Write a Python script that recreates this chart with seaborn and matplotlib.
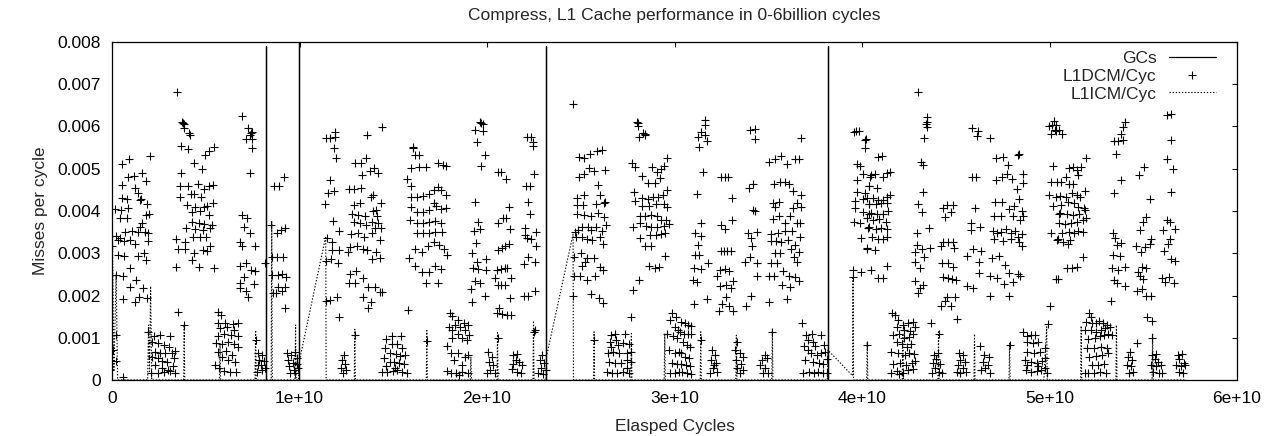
import matplotlib
matplotlib.use("Agg")
import matplotlib.pyplot as plt
import pandas as pd
import seaborn as sns
from matplotlib.lines import Line2D

# Units in the lists below: x in 1e9 elapsed cycles, y in 1e-3 misses per cycle.

# Garbage-collection events (drawn as a solid line along zero with spikes)
gc_points = [(0, 0), (8.19, 0), (8.19, 7.9), (8.19, 0), (9.97, 0), (9.97, 8.5), (9.97, 0),
             (23.17, 0), (23.17, 7.9), (23.17, 0), (38.18, 0), (38.18, 7.9), (38.18, 0), (57.2, 0)]

# L1 instruction-cache misses per cycle (dotted line)
icm_points = [(0.0, 0.0), (0.02, 3.55), (0.1, 0.2), (0.22, 2.5), (0.3, 0.0), (1.90, 0.0), (1.95, 1.3),
              (2.0, 0.2), (2.06, 2.22), (2.12, 0.0), (3.82, 0.0), (3.85, 1.3), (3.88, 0.0), (5.73, 0.0),
              (5.76, 0.85), (5.79, 0.0), (7.63, 0.0), (7.66, 1.18), (7.69, 0.0), (8.49, 0.0), (8.52, 3.75),
              (8.55, 0.0), (9.76, 0.0), (9.79, 1.3), (9.82, 0.0), (9.95, 0.0), (9.97, 0.4), (11.40, 3.40),
              (11.42, 0.0), (12.92, 0.0), (12.95, 1.2), (12.98, 0.0), (16.76, 0.0), (16.79, 1.17),
              (16.82, 0.0), (19.11, 0.0), (19.14, 0.55), (19.17, 0.0), (20.53, 0.0), (20.56, 1.12),
              (20.59, 0.0), (22.45, 0.0), (22.48, 1.40), (22.51, 0.0), (23.15, 0.0), (23.17, 0.55),
              (24.59, 3.45), (24.61, 0.0), (25.68, 0.0), (25.71, 1.14), (25.74, 0.0), (27.67, 0.0),
              (27.70, 1.10), (27.73, 0.0), (29.45, 0.0), (29.48, 1.10), (29.51, 0.0), (31.37, 0.0),
              (31.40, 1.14), (31.43, 0.0), (33.27, 0.0), (33.30, 1.06), (33.33, 0.0), (35.19, 0.0),
              (35.22, 1.20), (35.25, 0.0), (38.15, 0.0), (38.18, 0.71), (39.50, 0.10), (39.52, 2.45),
              (39.55, 0.0), (40.25, 0.0), (40.28, 0.90), (40.31, 0.0), (42.15, 0.0), (42.18, 1.10),
              (42.21, 0.0), (44.05, 0.0), (44.08, 1.14), (44.11, 0.0), (45.97, 0.0), (46.00, 1.09),
              (46.03, 0.0), (47.84, 0.0), (47.87, 0.88), (47.90, 0.0), (49.70, 0.0), (49.85, 1.26),
              (49.88, 0.0), (51.66, 0.0), (51.69, 1.28), (51.72, 0.0), (53.54, 0.0), (53.57, 1.30),
              (53.60, 0.0), (55.47, 0.0), (55.50, 1.10), (55.53, 0.0), (57.20, 0.0)]

# L1 data-cache misses per cycle, read cluster by cluster, grouped by GC phase
dcm_phase1 = [
    (0.55, 5.11), (0.91, 5.23), (2.01, 5.31), (0.87, 4.81), (1.19, 4.84), (1.62, 4.91), (1.79, 4.71),
    (0.55, 4.62), (1.23, 4.55), (1.40, 4.42), (1.55, 4.29), (1.85, 4.16), (0.52, 4.31), (0.80, 4.28),
    (1.47, 4.25), (1.79, 3.91), (1.99, 3.92), (0.16, 4.04), (0.48, 4.02), (0.84, 4.08), (0.41, 3.84),
    (0.80, 3.84), (1.58, 3.72), (1.49, 3.63), (0.23, 3.40), (0.41, 3.37), (0.69, 3.51), (1.05, 3.53),
    (1.37, 3.50), (1.76, 3.51), (1.94, 3.49), (0.30, 3.31), (0.62, 3.29), (0.98, 3.31), (1.23, 3.22),
    (1.94, 3.28), (0.02, 3.16), (0.34, 2.97), (0.66, 2.94), (1.40, 2.94), (1.69, 3.00), (1.83, 2.84),
    (0.98, 2.66), (0.23, 2.49), (0.59, 2.45), (1.26, 2.37), (0.94, 2.21), (1.65, 2.17), (0.59, 1.91),
    (1.23, 1.85), (1.44, 1.96), (1.87, 1.95),
    (0.04, 0.71), (0.20, 1.07), (0.20, 0.45), (0.57, 0.08),
    (3.48, 6.82), (3.75, 6.11), (3.78, 6.09), (3.82, 6.07), (3.85, 5.96), (4.14, 5.81), (4.12, 5.84),
    (3.68, 5.55), (4.07, 5.46), (4.96, 5.33), (5.19, 5.42), (5.42, 5.52), (4.35, 5.13), (4.78, 4.99),
    (3.68, 4.91), (3.64, 4.59), (4.07, 4.58), (4.56, 4.64), (4.92, 4.53), (5.17, 4.58), (5.38, 4.61),
    (3.61, 4.34), (4.21, 4.40), (4.35, 4.40), (4.74, 4.34), (4.00, 4.14), (4.42, 4.10), (4.88, 4.10),
    (5.06, 4.13), (5.38, 4.20), (4.24, 3.98), (4.71, 4.00), (5.17, 3.91), (4.28, 3.75), (4.64, 3.72),
    (4.92, 3.69), (5.31, 3.67), (3.96, 3.59), (4.42, 3.58), (4.85, 3.55), (5.24, 3.59), (3.39, 3.33),
    (3.89, 3.26), (4.32, 3.38), (4.67, 3.38), (5.03, 3.39), (3.50, 3.09), (3.89, 3.09), (4.39, 3.00),
    (4.85, 3.08), (5.06, 3.06), (5.24, 3.16), (4.24, 2.84), (3.43, 2.68), (4.64, 2.67), (5.42, 2.65),
    (3.50, 1.62), (3.85, 1.30),
    (6.94, 6.26), (7.23, 5.96), (7.44, 5.88), (7.37, 5.80), (7.40, 5.84), (7.12, 5.70), (7.44, 5.71),
    (7.44, 5.48), (7.34, 4.89), (6.91, 3.91), (7.19, 3.83), (7.05, 3.61), (7.34, 3.49), (6.80, 3.27),
    (6.91, 3.17), (7.62, 3.17), (6.84, 2.71), (7.16, 2.76), (7.41, 2.60), (7.62, 2.57), (7.02, 2.43),
    (6.80, 2.29), (7.16, 2.11), (7.55, 2.27), (6.80, 2.17), (7.26, 1.97), (8.15, 2.76),
    (1.94, 1.14), (2.22, 1.03), (2.56, 1.07), (3.11, 1.04), (2.11, 0.91), (2.47, 0.87), (2.75, 0.83),
    (3.04, 0.77), (2.29, 0.67), (2.58, 0.63), (2.82, 0.65), (3.18, 0.63), (3.36, 0.69), (2.15, 0.55),
    (2.47, 0.51), (2.68, 0.46), (2.93, 0.43), (3.29, 0.51), (2.29, 0.36), (2.65, 0.28), (2.97, 0.24),
    (3.25, 0.33), (2.08, 0.17), (2.47, 0.16), (2.79, 0.20), (3.11, 0.22), (3.36, 0.17),
    (5.63, 1.62), (5.81, 1.54), (5.67, 1.34), (6.02, 1.34), (6.45, 1.33), (6.73, 1.36), (5.77, 1.22),
    (6.13, 1.25), (6.52, 1.18), (5.67, 1.03), (5.99, 1.10), (6.34, 1.07), (6.70, 1.04), (5.52, 0.87),
    (5.84, 0.85), (6.20, 0.91), (6.48, 0.85), (5.67, 0.67), (6.06, 0.69), (6.38, 0.59), (6.73, 0.79),
    (5.84, 0.55), (6.16, 0.47), (6.55, 0.43), (5.49, 0.36), (5.70, 0.28), (5.95, 0.22), (6.31, 0.20),
    (6.59, 0.20),
    (7.66, 0.95), (7.76, 0.63), (7.98, 0.59), (7.84, 0.47), (8.08, 0.46), (7.76, 0.36), (7.98, 0.24),
    (8.15, 0.28), (7.73, 0.20), (7.94, 0.36),
]

dcm_phase2 = [
    (8.65, 4.58), (8.93, 4.59), (9.18, 4.81), (8.47, 3.66), (8.79, 3.49), (9.00, 3.55), (9.22, 3.59),
    (8.51, 2.90), (8.79, 2.90), (9.11, 2.92), (8.51, 2.49), (8.83, 2.48), (9.04, 2.52), (9.29, 2.43),
    (8.86, 2.21), (9.22, 2.21), (8.58, 2.05), (8.76, 2.05), (9.04, 2.11), (9.22, 1.70),
    (9.33, 0.63), (9.57, 0.59), (9.75, 0.67), (9.86, 0.51), (9.40, 0.47), (9.64, 0.41), (9.89, 0.38),
    (9.43, 0.32), (9.68, 0.24), (9.93, 0.28), (9.50, 0.16), (9.75, 0.16),
]

dcm_phase3 = [
    (11.39, 5.72), (11.60, 5.72), (11.89, 5.74), (11.89, 5.86), (11.82, 5.48), (11.96, 5.25),
    (11.60, 4.73), (11.53, 4.43), (11.82, 4.48), (11.35, 4.17), (11.78, 3.76), (12.10, 3.53),
    (11.46, 3.35), (11.75, 3.27), (12.10, 3.08), (11.71, 3.08), (11.39, 2.82), (11.67, 2.86),
    (12.03, 2.76), (11.39, 1.88), (11.64, 1.89), (11.99, 1.96), (12.10, 1.48),
    (13.59, 5.80), (14.38, 5.98), (12.95, 5.13), (13.27, 5.14), (13.56, 5.25), (13.31, 4.85),
    (13.77, 4.95), (13.98, 5.01), (14.20, 4.89), (12.63, 4.51), (12.91, 4.51), (13.27, 4.55),
    (13.91, 4.38), (13.81, 4.34), (12.88, 4.14), (13.20, 4.20), (14.33, 4.20), (12.81, 3.94),
    (13.13, 3.91), (13.49, 3.89), (13.91, 4.01), (14.09, 4.02), (14.13, 3.87), (12.88, 3.75),
    (13.24, 3.71), (13.52, 3.67), (13.84, 3.75), (14.16, 3.72), (14.33, 3.59), (14.02, 3.59),
    (12.77, 3.45), (13.10, 3.47), (13.45, 3.39), (13.84, 3.49), (14.30, 3.31), (12.70, 3.14),
    (13.06, 3.16), (13.38, 3.09), (13.59, 3.08), (14.09, 3.03), (12.60, 3.04), (13.84, 2.86),
    (14.27, 2.89), (12.67, 2.52), (13.02, 2.58), (12.63, 2.30), (12.95, 2.30), (13.38, 2.41),
    (13.66, 2.21), (14.02, 2.21), (14.27, 2.09), (14.41, 2.09), (13.38, 1.96), (13.81, 1.85),
    (13.63, 1.70),
    (16.04, 5.51), (16.08, 5.48), (16.40, 5.33), (16.15, 5.33), (15.97, 5.01), (16.36, 5.03),
    (16.75, 5.03), (17.39, 5.13), (17.64, 5.09), (17.82, 5.07), (15.72, 4.75), (15.94, 4.59),
    (15.94, 4.34), (16.29, 4.34), (16.61, 4.36), (16.90, 4.40), (17.15, 4.50), (17.36, 4.56),
    (17.57, 4.50), (17.79, 4.39), (15.92, 4.10), (16.29, 3.98), (16.61, 3.98), (16.90, 4.02),
    (17.15, 4.20), (17.29, 4.13), (17.57, 4.04), (17.79, 4.06), (15.88, 3.79), (16.26, 3.71),
    (16.61, 3.72), (16.93, 3.75), (17.22, 3.77), (17.54, 3.72), (16.26, 3.47), (16.58, 3.47),
    (16.90, 3.49), (17.22, 3.51), (17.61, 3.51), (16.18, 3.09), (16.54, 3.04), (16.86, 3.16),
    (17.18, 3.27), (17.43, 3.20), (17.68, 3.09), (17.86, 2.97), (15.85, 2.88), (16.15, 2.70),
    (16.51, 2.56), (16.93, 2.56), (17.22, 2.70), (17.57, 2.62), (16.75, 2.29), (17.39, 2.29),
    (15.80, 1.66),
    (19.63, 6.11), (19.81, 6.07), (19.70, 6.09), (19.35, 5.92), (19.78, 5.90), (19.46, 5.64),
    (19.88, 5.33), (19.70, 5.07), (19.35, 4.22), (19.53, 3.75), (19.28, 3.53), (19.63, 3.57),
    (19.42, 3.25), (19.21, 3.00), (19.46, 2.80), (19.92, 2.86), (19.24, 2.64), (19.53, 2.62),
    (19.95, 2.60), (19.35, 2.34), (19.60, 2.29), (19.14, 2.15), (19.88, 1.99), (19.21, 1.85),
    (12.39, 0.59), (12.24, 0.47), (12.45, 0.39), (12.20, 0.28), (12.48, 0.24), (12.34, 0.16),
    (12.95, 1.07),
    (14.91, 1.04), (15.41, 1.04), (14.62, 0.96), (14.91, 0.85), (15.19, 0.85), (15.44, 0.75),
    (14.55, 0.75), (14.83, 0.63), (15.12, 0.62), (15.37, 0.57), (15.62, 0.59), (14.48, 0.51),
    (14.80, 0.43), (15.05, 0.43), (15.30, 0.41), (15.55, 0.39), (14.41, 0.20), (14.69, 0.20),
    (14.98, 0.22), (15.19, 0.24), (15.48, 0.20), (15.73, 0.17), (14.62, 0.32), (15.09, 0.28),
    (16.79, 0.93),
    (18.01, 1.59), (18.11, 1.51), (18.46, 1.42), (18.75, 1.34), (19.00, 1.30), (18.29, 1.30),
    (18.57, 1.25), (17.97, 1.25), (18.15, 1.18), (18.85, 1.18), (18.46, 1.10), (19.03, 1.07),
    (18.15, 0.99), (18.64, 0.99), (18.92, 0.95), (17.86, 0.81), (18.07, 0.63), (18.46, 0.63),
    (18.82, 0.55), (19.00, 0.59), (18.25, 0.47), (18.64, 0.36), (17.86, 0.22), (18.07, 0.17),
    (18.36, 0.17), (18.64, 0.20), (18.96, 0.17), (18.53, 0.12),
    (20.59, 4.93), (20.77, 4.93), (21.02, 4.75), (21.16, 4.09), (20.59, 3.72), (20.84, 3.83),
    (21.02, 3.83), (21.20, 3.57), (20.59, 3.08), (20.81, 3.12), (20.95, 3.16), (21.16, 3.22),
    (20.52, 2.60), (20.73, 2.62), (20.95, 2.66), (21.09, 2.64), (20.45, 2.41), (20.56, 2.26),
    (20.77, 2.26), (20.95, 2.26), (21.27, 2.41), (21.20, 1.93), (20.66, 1.70), (20.52, 1.58),
    (20.81, 1.56), (21.06, 1.54), (21.30, 1.54),
    (22.12, 5.74), (22.37, 5.76), (22.44, 5.64), (22.44, 5.54), (22.51, 4.87), (22.09, 4.58),
    (22.30, 4.58), (22.16, 4.22), (22.30, 3.94), (22.05, 3.59), (22.62, 3.51), (22.02, 3.43),
    (22.12, 3.37), (22.37, 3.33), (22.62, 3.16), (22.19, 2.92), (21.98, 2.75), (22.55, 2.79),
    (21.95, 1.99), (22.16, 1.99), (22.55, 2.11),
    (20.06, 0.67), (20.24, 0.55), (20.09, 0.43), (20.34, 0.36), (20.17, 0.24), (20.41, 0.17),
    (19.99, 0.16), (20.56, 0.99),
    (21.41, 0.59), (21.62, 0.62), (21.52, 0.47), (21.73, 0.43), (21.84, 0.36), (21.34, 0.25),
    (21.59, 0.20), (21.80, 0.17), (21.38, 0.38), (22.51, 1.14), (22.58, 1.18),
    (22.94, 0.59), (22.80, 0.47), (23.05, 0.41), (22.87, 0.28), (23.12, 0.24), (22.73, 0.16),
    (23.01, 0.14),
]

dcm_phase4 = [
    (24.58, 6.53), (24.89, 5.27), (25.18, 5.26), (25.50, 5.36), (25.89, 5.43), (26.14, 5.44),
    (24.89, 4.81), (25.18, 4.88), (25.46, 5.01), (25.71, 4.95), (26.28, 4.97), (25.93, 4.62),
    (24.78, 4.30), (25.18, 4.37), (26.03, 4.38), (26.28, 4.22), (24.82, 4.14), (25.14, 4.14),
    (25.82, 4.17), (26.25, 4.18), (24.82, 3.92), (25.18, 3.91), (25.53, 3.89), (25.93, 3.96),
    (26.25, 3.85), (24.68, 3.51), (24.86, 3.55), (25.07, 3.63), (25.36, 3.61), (25.57, 3.55),
    (25.82, 3.61), (26.14, 3.53), (26.32, 3.67), (24.72, 3.38), (25.04, 3.39), (25.32, 3.34),
    (25.60, 3.31), (26.00, 3.39), (26.21, 3.22), (24.65, 2.90), (25.00, 3.00), (25.32, 2.88),
    (25.68, 2.88), (25.04, 2.70), (25.25, 2.80), (26.03, 2.67), (26.21, 2.60), (24.65, 2.45),
    (24.97, 2.46), (25.32, 2.37), (25.75, 2.45), (24.61, 1.99), (25.57, 2.04), (25.96, 1.93),
    (26.18, 1.83),
    (27.99, 6.11), (28.03, 6.09), (28.06, 6.01), (28.34, 5.84), (28.45, 5.81), (28.40, 5.82),
    (28.09, 5.76), (27.74, 5.13), (27.91, 5.03), (28.80, 5.03), (29.05, 4.93), (29.26, 4.99),
    (29.44, 5.07), (29.62, 5.26), (28.27, 4.83), (28.59, 4.67), (28.98, 4.67), (29.23, 4.77),
    (27.82, 4.46), (27.88, 4.24), (28.27, 4.30), (28.59, 4.28), (28.87, 4.34), (29.12, 4.34),
    (29.37, 4.38), (29.58, 4.50), (28.24, 4.12), (28.63, 4.13), (29.02, 4.17), (29.44, 4.17),
    (29.62, 4.10), (28.17, 3.88), (28.45, 3.88), (28.77, 3.91), (29.05, 3.88), (29.30, 3.79),
    (29.55, 3.79), (27.78, 3.61), (28.17, 3.72), (28.48, 3.64), (28.77, 3.63), (29.09, 3.63),
    (29.44, 3.65), (29.69, 3.69), (28.17, 3.35), (28.71, 3.43), (29.02, 3.43), (29.30, 3.46),
    (29.51, 3.49), (28.45, 3.16), (28.77, 3.17), (29.48, 2.93), (28.66, 2.71), (28.98, 2.66),
    (29.19, 2.68), (28.09, 2.37), (27.78, 2.13), (27.70, 1.50),
    (29.87, 1.58), (30.08, 1.50), (29.76, 1.42), (30.01, 1.25), (30.19, 1.18), (29.62, 1.10),
    (29.90, 1.04), (30.12, 0.99), (29.69, 0.71), (30.01, 0.63), (30.22, 0.67), (29.87, 0.41),
    (30.15, 0.38), (29.76, 0.17), (30.05, 0.17), (30.26, 0.20),
    (30.37, 1.38), (30.54, 1.34), (30.72, 1.30), (30.90, 1.28), (30.30, 1.14), (30.48, 1.10),
    (30.72, 1.10), (30.90, 1.09), (30.44, 0.91), (30.65, 0.83), (30.83, 0.79), (30.33, 0.63),
    (30.54, 0.55), (30.76, 0.51), (30.37, 0.39), (30.62, 0.36), (30.83, 0.32), (30.41, 0.20),
    (30.68, 0.17), (30.90, 0.14),
    (31.61, 6.15), (31.64, 6.04), (31.43, 5.88), (31.64, 5.80), (31.25, 5.74), (31.71, 5.66),
    (31.29, 5.52), (31.54, 4.93), (31.22, 4.40), (31.40, 3.71), (31.11, 3.47), (31.43, 3.41),
    (31.25, 3.20), (31.08, 2.96), (31.33, 2.96), (31.79, 2.78), (31.04, 2.64), (31.40, 2.62),
    (31.01, 2.37), (31.22, 2.33), (31.75, 1.91), (31.04, 1.79), (31.40, 0.95),
    (32.50, 4.81), (32.68, 4.81), (32.85, 4.81), (33.06, 4.30), (32.50, 3.67), (32.68, 3.57),
    (33.04, 3.79), (32.50, 3.05), (32.64, 3.05), (32.78, 3.05), (33.02, 3.05), (32.43, 2.60),
    (32.68, 2.62), (32.93, 2.58), (32.29, 2.45), (33.14, 2.35), (32.43, 2.22), (32.74, 2.25),
    (33.02, 2.17), (32.74, 1.96), (32.53, 1.81), (32.89, 1.75), (32.36, 1.64), (33.10, 1.64),
    (34.03, 5.92), (34.31, 5.93), (34.27, 5.71), (34.21, 4.65), (33.95, 4.54), (34.17, 4.02),
    (34.31, 4.01), (33.92, 3.49), (34.42, 3.51), (34.10, 3.35), (34.13, 3.17), (33.78, 2.80),
    (34.03, 2.92), (34.42, 2.76), (34.38, 2.47), (34.06, 1.99), (33.81, 1.75),
    (36.76, 5.72), (35.02, 5.17), (35.34, 5.23), (35.66, 5.29), (35.98, 5.11), (36.41, 5.22),
    (36.62, 5.22), (35.31, 4.65), (35.63, 4.68), (35.88, 4.69), (36.12, 4.63), (36.34, 4.48),
    (36.76, 4.38), (35.27, 4.18), (35.59, 4.21), (35.34, 4.10), (36.51, 4.20), (36.30, 4.06),
    (36.76, 4.10), (35.27, 3.80), (35.56, 3.87), (35.88, 3.71), (36.16, 3.88), (36.55, 3.71),
    (36.69, 3.71), (35.16, 3.46), (35.52, 3.47), (35.91, 3.53), (36.26, 3.53), (35.13, 3.29),
    (35.41, 3.29), (35.70, 3.27), (36.05, 3.31), (36.41, 3.20), (36.69, 3.39), (35.34, 3.00),
    (35.63, 3.00), (36.23, 3.09), (36.62, 3.02), (35.13, 2.78), (35.45, 2.78), (36.37, 2.92),
    (36.51, 2.80), (35.02, 2.46), (35.31, 2.45), (35.77, 2.59), (36.09, 2.45), (36.44, 2.43),
    (36.65, 2.35), (35.73, 2.25), (36.16, 2.19), (35.06, 1.85), (36.02, 1.91), (36.78, 1.34),
    (37.03, 1.07), (37.35, 1.10), (37.83, 1.07), (37.10, 0.95), (37.37, 0.91), (36.92, 0.80),
    (37.14, 0.71), (37.51, 0.80), (37.97, 0.83), (37.30, 0.65), (37.62, 0.59), (37.83, 0.63),
    (38.04, 0.67), (36.98, 0.47), (37.40, 0.43), (37.72, 0.41), (37.93, 0.39), (38.11, 0.49),
    (36.87, 0.17), (37.19, 0.20), (37.44, 0.16), (37.65, 0.20), (37.90, 0.17), (38.11, 0.16),
    (26.60, 1.07), (26.85, 1.10), (26.56, 0.91), (26.88, 0.95), (27.34, 1.10), (26.63, 0.79),
    (26.99, 0.83), (27.27, 0.87), (27.56, 0.85), (26.46, 0.65), (26.71, 0.67), (27.06, 0.63),
    (27.45, 0.63), (27.70, 0.67), (26.53, 0.43), (26.85, 0.41), (27.17, 0.41), (27.49, 0.47),
    (27.70, 0.43), (26.39, 0.20), (26.67, 0.17), (26.95, 0.17), (27.24, 0.20), (27.56, 0.16),
    (27.45, 0.28), (25.71, 0.95),
    (31.99, 0.71), (32.14, 0.59), (31.93, 0.47), (32.21, 0.41), (32.03, 0.28), (31.89, 0.17),
    (32.24, 0.20), (32.11, 0.36),
    (33.32, 0.91), (33.24, 0.71), (33.49, 0.63), (33.67, 0.55), (33.28, 0.47), (33.56, 0.39),
    (33.32, 0.28), (33.67, 0.24), (33.49, 0.16),
    (34.81, 0.59), (34.67, 0.47), (34.91, 0.51), (34.56, 0.36), (34.81, 0.28), (34.99, 0.17),
    (34.71, 0.16), (35.20, 1.14),
]

dcm_phase5 = [
    (39.59, 5.88), (39.82, 5.90), (39.70, 5.89), (40.18, 5.68), (40.14, 5.48), (39.73, 5.11),
    (39.87, 5.07), (40.04, 4.87), (40.40, 4.81), (39.71, 4.73), (40.37, 4.58), (39.71, 4.46),
    (40.14, 4.42), (39.64, 4.24), (40.03, 4.28), (40.38, 4.17), (39.61, 4.06), (40.03, 3.98),
    (40.35, 3.94), (39.57, 3.75), (39.89, 3.72), (40.31, 3.59), (39.96, 3.37), (40.28, 3.10),
    (39.54, 2.60), (39.93, 2.55), (39.54, 2.43),
    (40.21, 5.70), (40.85, 5.27), (41.06, 5.29), (40.46, 4.85), (40.67, 4.87), (41.13, 4.81),
    (41.34, 4.89), (41.49, 4.93), (40.39, 4.59), (40.81, 4.54), (40.25, 4.30), (40.57, 4.30),
    (40.85, 4.26), (41.13, 4.26), (41.34, 4.32), (41.49, 4.38), (40.35, 4.16), (40.74, 4.17),
    (41.03, 4.18), (41.31, 4.20), (40.49, 3.96), (40.81, 3.93), (41.13, 3.94), (41.38, 4.01),
    (40.25, 3.83), (40.60, 3.79), (40.92, 3.81), (41.27, 3.75), (40.35, 3.61), (40.74, 3.57),
    (41.03, 3.59), (41.31, 3.57), (40.53, 3.39), (40.85, 3.33), (41.13, 3.33), (41.34, 3.39),
    (40.28, 3.12), (40.67, 3.08), (40.46, 2.60), (41.31, 2.70), (40.85, 2.41), (41.10, 2.41),
    (40.28, 0.83),
    (41.59, 1.58), (41.77, 1.54), (41.91, 1.42), (42.20, 1.30), (42.45, 1.34), (42.70, 1.38),
    (41.88, 1.25), (42.24, 1.18), (42.55, 1.17), (42.81, 1.25), (41.63, 1.07), (41.98, 1.10),
    (42.24, 0.99), (42.52, 1.01), (42.73, 1.10), (41.84, 0.91), (42.13, 0.85), (42.38, 0.79),
    (42.63, 0.85), (41.56, 0.67), (41.91, 0.63), (42.27, 0.59), (42.52, 0.65), (42.77, 0.62),
    (41.67, 0.38), (42.02, 0.41), (42.34, 0.36), (42.66, 0.41), (42.84, 0.46), (41.52, 0.16),
    (41.88, 0.22), (42.17, 0.17), (42.45, 0.24), (42.73, 0.25), (41.98, 0.14),
    (42.98, 6.82), (43.48, 6.22), (43.40, 6.07), (43.44, 5.98), (43.46, 6.10), (43.33, 5.72),
    (43.12, 5.17), (43.26, 5.09), (43.23, 4.44), (42.98, 4.17), (43.19, 3.98), (42.94, 3.47),
    (43.55, 3.59), (42.91, 3.20), (43.19, 3.09), (42.80, 3.04), (43.62, 3.12), (43.30, 2.90),
    (42.84, 2.80), (43.09, 2.64), (42.84, 2.35), (43.23, 2.25), (43.09, 2.17), (43.01, 2.05),
    (43.66, 1.36),
    (44.33, 4.06), (44.55, 4.14), (44.83, 4.14), (44.73, 3.98), (44.40, 3.85), (44.33, 3.27),
    (44.57, 3.27), (44.86, 3.27), (44.19, 3.16), (44.93, 3.12), (44.26, 2.76), (44.61, 2.78),
    (44.83, 2.68), (44.30, 2.43), (44.58, 2.41), (44.80, 2.38), (45.00, 2.37), (44.55, 1.97),
    (44.40, 1.88), (44.23, 1.75), (44.76, 1.74), (44.94, 1.96), (45.04, 1.44),
    (45.86, 5.96), (46.18, 5.90), (46.15, 5.78), (46.85, 5.72), (45.86, 4.80), (46.08, 4.80),
    (46.00, 4.06), (45.83, 3.72), (45.79, 3.55), (46.29, 3.63), (45.93, 3.09), (46.32, 3.06),
    (45.58, 2.93), (46.25, 2.80), (46.25, 2.54), (45.61, 2.22), (45.90, 2.17),
    (47.17, 5.25), (47.50, 5.27), (48.31, 5.33), (47.77, 5.08), (48.35, 5.35), (47.14, 4.73),
    (47.46, 4.80), (47.75, 4.87), (48.00, 4.75), (48.60, 4.87), (48.60, 4.67), (48.24, 4.51),
    (47.07, 4.22), (47.46, 4.22), (47.82, 4.04), (48.13, 4.13), (48.38, 4.28), (48.52, 4.01),
    (47.03, 3.88), (47.39, 3.88), (48.06, 3.87), (48.42, 3.79), (48.56, 3.87), (46.96, 3.53),
    (47.21, 3.47), (47.42, 3.51), (47.67, 3.57), (47.95, 3.47), (48.17, 3.53), (48.31, 3.39),
    (48.52, 3.46), (47.03, 3.33), (47.53, 3.30), (47.95, 3.33), (48.35, 3.27), (48.52, 3.16),
    (46.92, 2.88), (47.28, 2.93), (47.60, 2.72), (47.85, 2.54), (48.31, 2.50), (48.42, 2.45),
    (46.85, 2.45), (47.21, 2.41), (47.57, 2.27), (48.03, 2.33), (46.85, 1.99), (47.85, 1.99),
    (49.99, 6.01), (50.24, 6.14), (50.13, 6.04), (50.27, 5.92), (50.09, 5.82), (50.37, 6.04),
    (50.52, 5.92), (50.66, 5.82), (50.34, 5.90), (50.17, 5.07), (50.06, 4.69), (50.42, 4.69),
    (49.99, 4.38), (50.35, 4.32), (50.17, 4.13), (50.49, 3.94), (50.06, 3.47), (50.42, 3.31),
    (50.35, 2.38), (50.05, 1.76), (49.94, 1.32),
    (51.05, 5.01), (51.26, 5.03), (51.48, 4.97), (51.69, 5.03), (51.94, 5.26), (50.59, 4.69),
    (50.87, 4.80), (51.05, 4.64), (51.26, 4.64), (51.54, 4.85), (50.55, 4.36), (50.87, 4.34),
    (51.19, 4.42), (51.44, 4.38), (51.62, 4.34), (51.90, 4.48), (50.62, 4.14), (50.98, 4.22),
    (51.33, 4.20), (51.54, 4.10), (51.83, 4.06), (50.55, 3.96), (50.91, 3.94), (51.26, 3.91),
    (51.58, 3.94), (51.87, 4.02), (50.52, 3.72), (50.80, 3.69), (51.16, 3.72), (51.48, 3.75),
    (51.76, 3.79), (51.94, 3.83), (50.66, 3.47), (51.05, 3.51), (51.33, 3.47), (51.54, 3.53),
    (51.79, 3.51), (50.45, 3.33), (50.73, 3.27), (50.98, 3.22), (51.09, 3.31), (51.76, 2.90),
    (50.91, 2.64), (51.19, 2.64), (51.48, 2.68), (50.45, 2.38),
    (54.00, 6.11), (53.92, 5.98), (53.82, 5.82), (53.46, 5.66), (53.64, 5.66), (53.91, 5.68),
    (53.57, 5.35), (53.82, 4.73), (53.46, 4.42), (53.39, 3.47), (53.50, 3.37), (53.61, 3.20),
    (53.82, 3.25), (53.36, 2.96), (53.75, 2.93), (53.32, 2.64), (53.64, 2.60), (54.00, 2.67),
    (53.43, 2.37), (53.61, 2.30), (54.00, 2.22), (53.29, 1.88),
    (55.06, 5.03), (54.77, 4.85), (55.35, 4.28), (55.13, 3.85), (54.99, 3.75), (54.82, 3.55),
    (55.42, 3.33), (55.35, 3.23), (54.60, 3.16), (54.89, 3.02), (55.10, 3.14), (54.92, 2.68),
    (55.17, 2.64), (54.71, 2.56), (54.82, 2.46), (55.00, 2.38), (54.67, 2.11), (54.92, 2.15),
    (55.17, 1.99), (55.42, 1.99), (55.20, 1.50), (55.45, 1.40),
    (56.24, 6.27), (56.49, 6.30), (56.49, 5.68), (56.24, 5.22), (56.59, 5.00), (56.49, 4.46),
    (56.24, 3.79), (56.41, 3.75), (56.70, 3.57), (56.06, 3.55), (56.41, 3.33), (56.31, 3.22),
    (56.09, 3.06), (56.49, 2.86), (56.70, 2.82), (56.02, 2.41), (56.38, 2.43), (56.17, 2.33),
    (56.66, 2.30),
    (43.83, 0.59), (44.05, 0.63), (43.94, 0.49), (43.76, 0.41), (44.15, 0.38), (43.91, 0.28),
    (43.73, 0.17), (44.08, 0.20), (44.26, 0.16), (44.08, 1.09),
    (45.15, 0.63), (45.40, 0.59), (45.25, 0.47), (45.50, 0.43), (45.11, 0.36), (45.40, 0.28),
    (45.25, 0.17), (45.57, 0.20), (45.04, 0.20), (46.28, 0.80),
    (46.53, 0.59), (46.75, 0.55), (46.46, 0.43), (46.71, 0.36), (46.57, 0.28), (46.82, 0.17),
    (46.36, 0.24), (47.88, 0.83),
    (48.60, 1.14), (48.78, 1.03), (49.03, 1.07), (49.24, 1.07), (48.78, 0.91), (49.10, 0.87),
    (49.41, 0.91), (48.81, 0.67), (49.17, 0.63), (49.49, 0.67), (49.74, 0.75), (48.67, 0.47),
    (48.99, 0.43), (49.31, 0.41), (49.60, 0.46), (49.77, 0.51), (48.74, 0.24), (49.03, 0.20),
    (49.31, 0.22), (49.56, 0.24), (49.84, 0.17), (48.81, 0.36), (49.38, 0.32), (49.74, 0.28),
    (52.11, 1.59), (52.22, 1.50), (51.97, 1.38), (52.25, 1.34), (52.50, 1.36), (52.64, 1.40),
    (52.86, 1.34), (53.07, 1.30), (51.87, 1.18), (52.19, 1.18), (52.47, 1.14), (52.75, 1.18),
    (52.97, 1.22), (53.22, 1.25), (52.04, 0.96), (52.40, 0.99), (52.68, 1.03), (52.93, 1.07),
    (53.11, 1.10), (52.01, 0.75), (52.36, 0.75), (52.72, 0.79), (53.04, 0.75), (53.32, 1.07),
    (52.11, 0.55), (52.47, 0.57), (52.82, 0.59), (53.11, 0.63), (52.25, 0.36), (52.57, 0.36),
    (52.89, 0.39), (52.04, 0.17), (52.36, 0.17), (52.68, 0.20), (53.00, 0.17), (51.87, 0.16),
    (54.28, 0.67), (54.21, 0.55), (54.39, 0.47), (54.14, 0.36), (54.35, 0.32), (54.25, 0.17),
    (54.46, 0.20), (54.64, 0.88),
    (55.49, 0.59), (55.70, 0.62), (55.60, 0.49), (55.81, 0.43), (55.42, 0.36), (55.70, 0.32),
    (55.92, 0.36), (55.53, 0.20), (55.85, 0.17), (55.99, 0.16), (55.46, 0.99),
    (56.84, 0.59), (57.05, 0.62), (56.91, 0.49), (57.16, 0.41), (56.77, 0.36), (57.02, 0.32),
    (57.23, 0.36), (56.88, 0.20), (57.12, 0.17),
]

x_ticks = [0, 1e10, 2e10, 3e10, 4e10, 5e10, 6e10]
x_tick_labels = ["0", "1e+10", "2e+10", "3e+10", "4e+10", "5e+10", "6e+10"]
y_ticks = [0, 0.001, 0.002, 0.003, 0.004, 0.005, 0.006, 0.007, 0.008]
y_tick_labels = ["0", "0.001", "0.002", "0.003", "0.004", "0.005", "0.006", "0.007", "0.008"]
series_labels = ["GCs", "L1DCM/Cyc", "L1ICM/Cyc"]


def to_frame(points):
    df = pd.DataFrame(points, columns=["x", "y"])
    df["x"] = df["x"] * 1e9
    df["y"] = df["y"] * 1e-3
    return df


sns.set_theme(style="white")
plt.rcParams["font.family"] = ["Liberation Sans", "DejaVu Sans"]
plt.rcParams["axes.edgecolor"] = "black"
plt.rcParams["axes.linewidth"] = 0.9

FS = 12.5
fig, ax = plt.subplots(figsize=(12.76, 4.36), dpi=100)
fig.subplots_adjust(left=112 / 1276, right=1237 / 1276, bottom=1 - 380 / 436, top=1 - 42 / 436)

gc_df = to_frame(gc_points)
icm_df = to_frame(icm_points)
dcm_df = to_frame(dcm_phase1 + dcm_phase2 + dcm_phase3 + dcm_phase4 + dcm_phase5)

sns.lineplot(data=gc_df, x="x", y="y", sort=False, estimator=None, color="black",
             linewidth=0.9, ax=ax, legend=False)
sns.lineplot(data=icm_df, x="x", y="y", sort=False, estimator=None, color="black",
             linewidth=0.8, linestyle=(0, (1.2, 1.6)), ax=ax, legend=False)
sns.scatterplot(data=dcm_df, x="x", y="y", marker="+", s=34, color="black",
                linewidth=0.8, ax=ax, legend=False)

ax.set_xlim(0, 6e10)
ax.set_ylim(0, 0.008)
ax.set_xticks(x_ticks, x_tick_labels)
ax.set_yticks(y_ticks, y_tick_labels)
ax.tick_params(axis="both", which="major", direction="in", length=3.6, width=0.8,
               top=True, right=True, labelsize=FS, colors="black", pad=8)
for side in ["top", "right", "bottom", "left"]:
    ax.spines[side].set_visible(True)
    ax.spines[side].set_color("black")

ax.set_xlabel("Elasped Cycles", fontsize=FS, labelpad=9)
ax.set_ylabel("Misses per cycle", fontsize=FS, labelpad=7)
ax.set_title("Compress, L1 Cache performance in 0-6billion cycles", fontsize=FS, pad=16)

handles = [
    Line2D([], [], color="black", linewidth=0.9),
    Line2D([], [], color="black", marker="+", linestyle="none", markersize=5.5, markeredgewidth=0.8),
    Line2D([], [], color="black", linewidth=0.8, linestyle=(0, (1.2, 1.6))),
]
leg = ax.legend(handles, series_labels, loc="upper right", bbox_to_anchor=(0.984, 0.985),
                frameon=False, markerfirst=False, fontsize=FS, handlelength=2.7,
                handletextpad=0.7, labelspacing=0.16, borderpad=0.2, borderaxespad=0.0)

fig.savefig("out.png", dpi=100)
